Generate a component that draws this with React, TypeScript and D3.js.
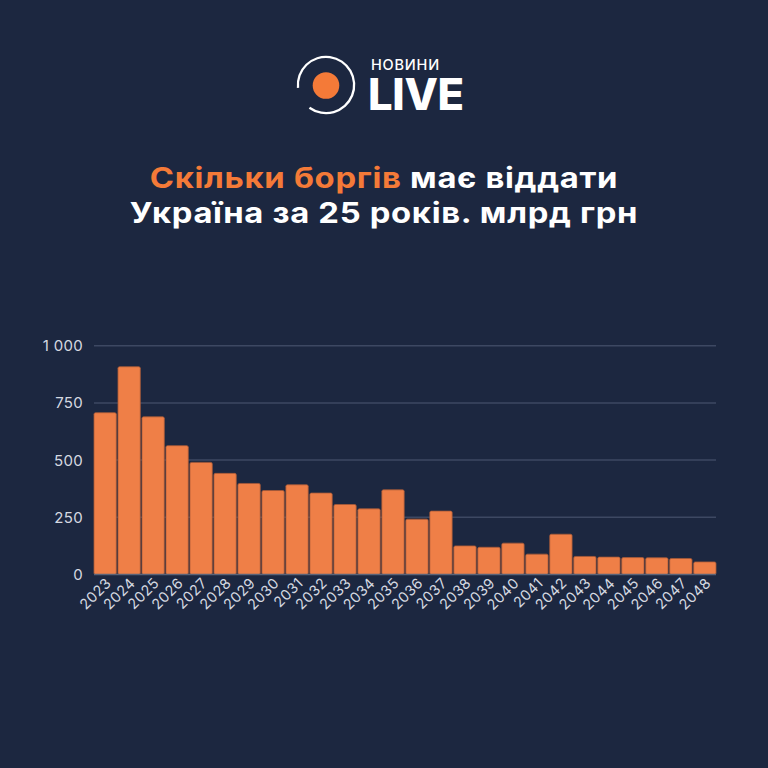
import React from "react";
import * as d3 from "d3";

const years = ["2023","2024","2025","2026","2027","2028","2029","2030","2031","2032","2033","2034","2035","2036","2037","2038","2039","2040","2041","2042","2043","2044","2045","2046","2047","2048"];
const values = [707,908,689,563,490,442,398,367,392,356,306,287,370,242,277,125,119,137,89,176,79,76,74,73,70,55];
const yTicks = [0,250,500,750,1000];
const yTickLabels = ["0","250","500","750","1 000"];

const W = 768, H = 768;
const BG = "#1c2740";
const ORANGE = "#ef7f47";
const FONT = "Inter, 'Noto Sans', sans-serif";

export default function App() {
  const x = d3.scaleBand<string>().domain(years).range([94, 716]).paddingInner(0.07).paddingOuter(0.0);
  const y = d3.scaleLinear().domain([0, 1000]).range([574.5, 345.7]);
  const deg = Math.PI / 180;
  const sx = 1.15;
  return (
    <svg width={W} height={H} viewBox={`0 0 ${W} ${H}`} style={{ position: "absolute", left: 0, top: 0, display: "block" }}>
      <rect x={0} y={0} width={W} height={H} fill={BG} />
      {/* logo */}
      <g>
        <path
          d={d3.arc()({ innerRadius: 27, outerRadius: 29.3, startAngle: -96 * deg, endAngle: 216 * deg }) as string}
          transform="translate(326,85)"
          fill="#ffffff"
        />
        <circle cx={326} cy={85.5} r={13.3} fill="#f47a38" />
        <text x={371} y={69.5} fill="#ffffff" fontFamily={FONT} fontSize={14.5} fontWeight={500} letterSpacing={0.8}>НОВИНИ</text>
        <text x={368} y={110} fill="#ffffff" fontFamily={FONT} fontSize={43.5} fontWeight={800} letterSpacing={-0.3}>LIVE</text>
      </g>
      {/* title */}
      <g transform={`translate(384,0) scale(${sx},1)`}>
        <text x={0} y={188} textAnchor="middle" fontFamily={FONT} fontSize={28.5} fontWeight={700} letterSpacing={0.6} fill="#ffffff">
          <tspan fill="#f47a38">Скільки боргів</tspan> має віддати
        </text>
        <text x={0} y={223.5} textAnchor="middle" fontFamily={FONT} fontSize={28.5} fontWeight={700} letterSpacing={0.6} fill="#ffffff">
          Україна за 25 років. млрд грн
        </text>
      </g>
      {/* grid */}
      {yTicks.map((t, i) => (
        <g key={t}>
          {t !== 0 && <line x1={94} x2={716} y1={y(t)} y2={y(t)} stroke="#3d4862" strokeWidth={1.5} />}
          <text x={83} y={y(t)} dy="0.36em" textAnchor="end" fontFamily={FONT} fontSize={15} letterSpacing={0.3} fill="#d5d9e1">{yTickLabels[i]}</text>
        </g>
      ))}
      {/* bars */}
      {years.map((yr, i) => (
        <rect key={yr} x={x(yr)} y={y(values[i])} width={x.bandwidth()} height={y(0) - y(values[i])}
          fill={ORANGE} stroke="#a85a38" strokeWidth={0.8} rx={1.5} />
      ))}
      <line x1={94} x2={716} y1={y(0)} y2={y(0)} stroke="#5a6378" strokeWidth={1.5} />
      {/* x labels */}
      {years.map((yr) => {
        const cx = (x(yr) as number) + x.bandwidth() / 2 + 7;
        const cy = 584;
        return (
          <text key={yr} x={cx} y={cy} transform={`rotate(-45 ${cx} ${cy})`} textAnchor="end" fontFamily={FONT} fontSize={14.5} letterSpacing={0.4} fill="#d5d9e1">{yr}</text>
        );
      })}
    </svg>
  );
}
